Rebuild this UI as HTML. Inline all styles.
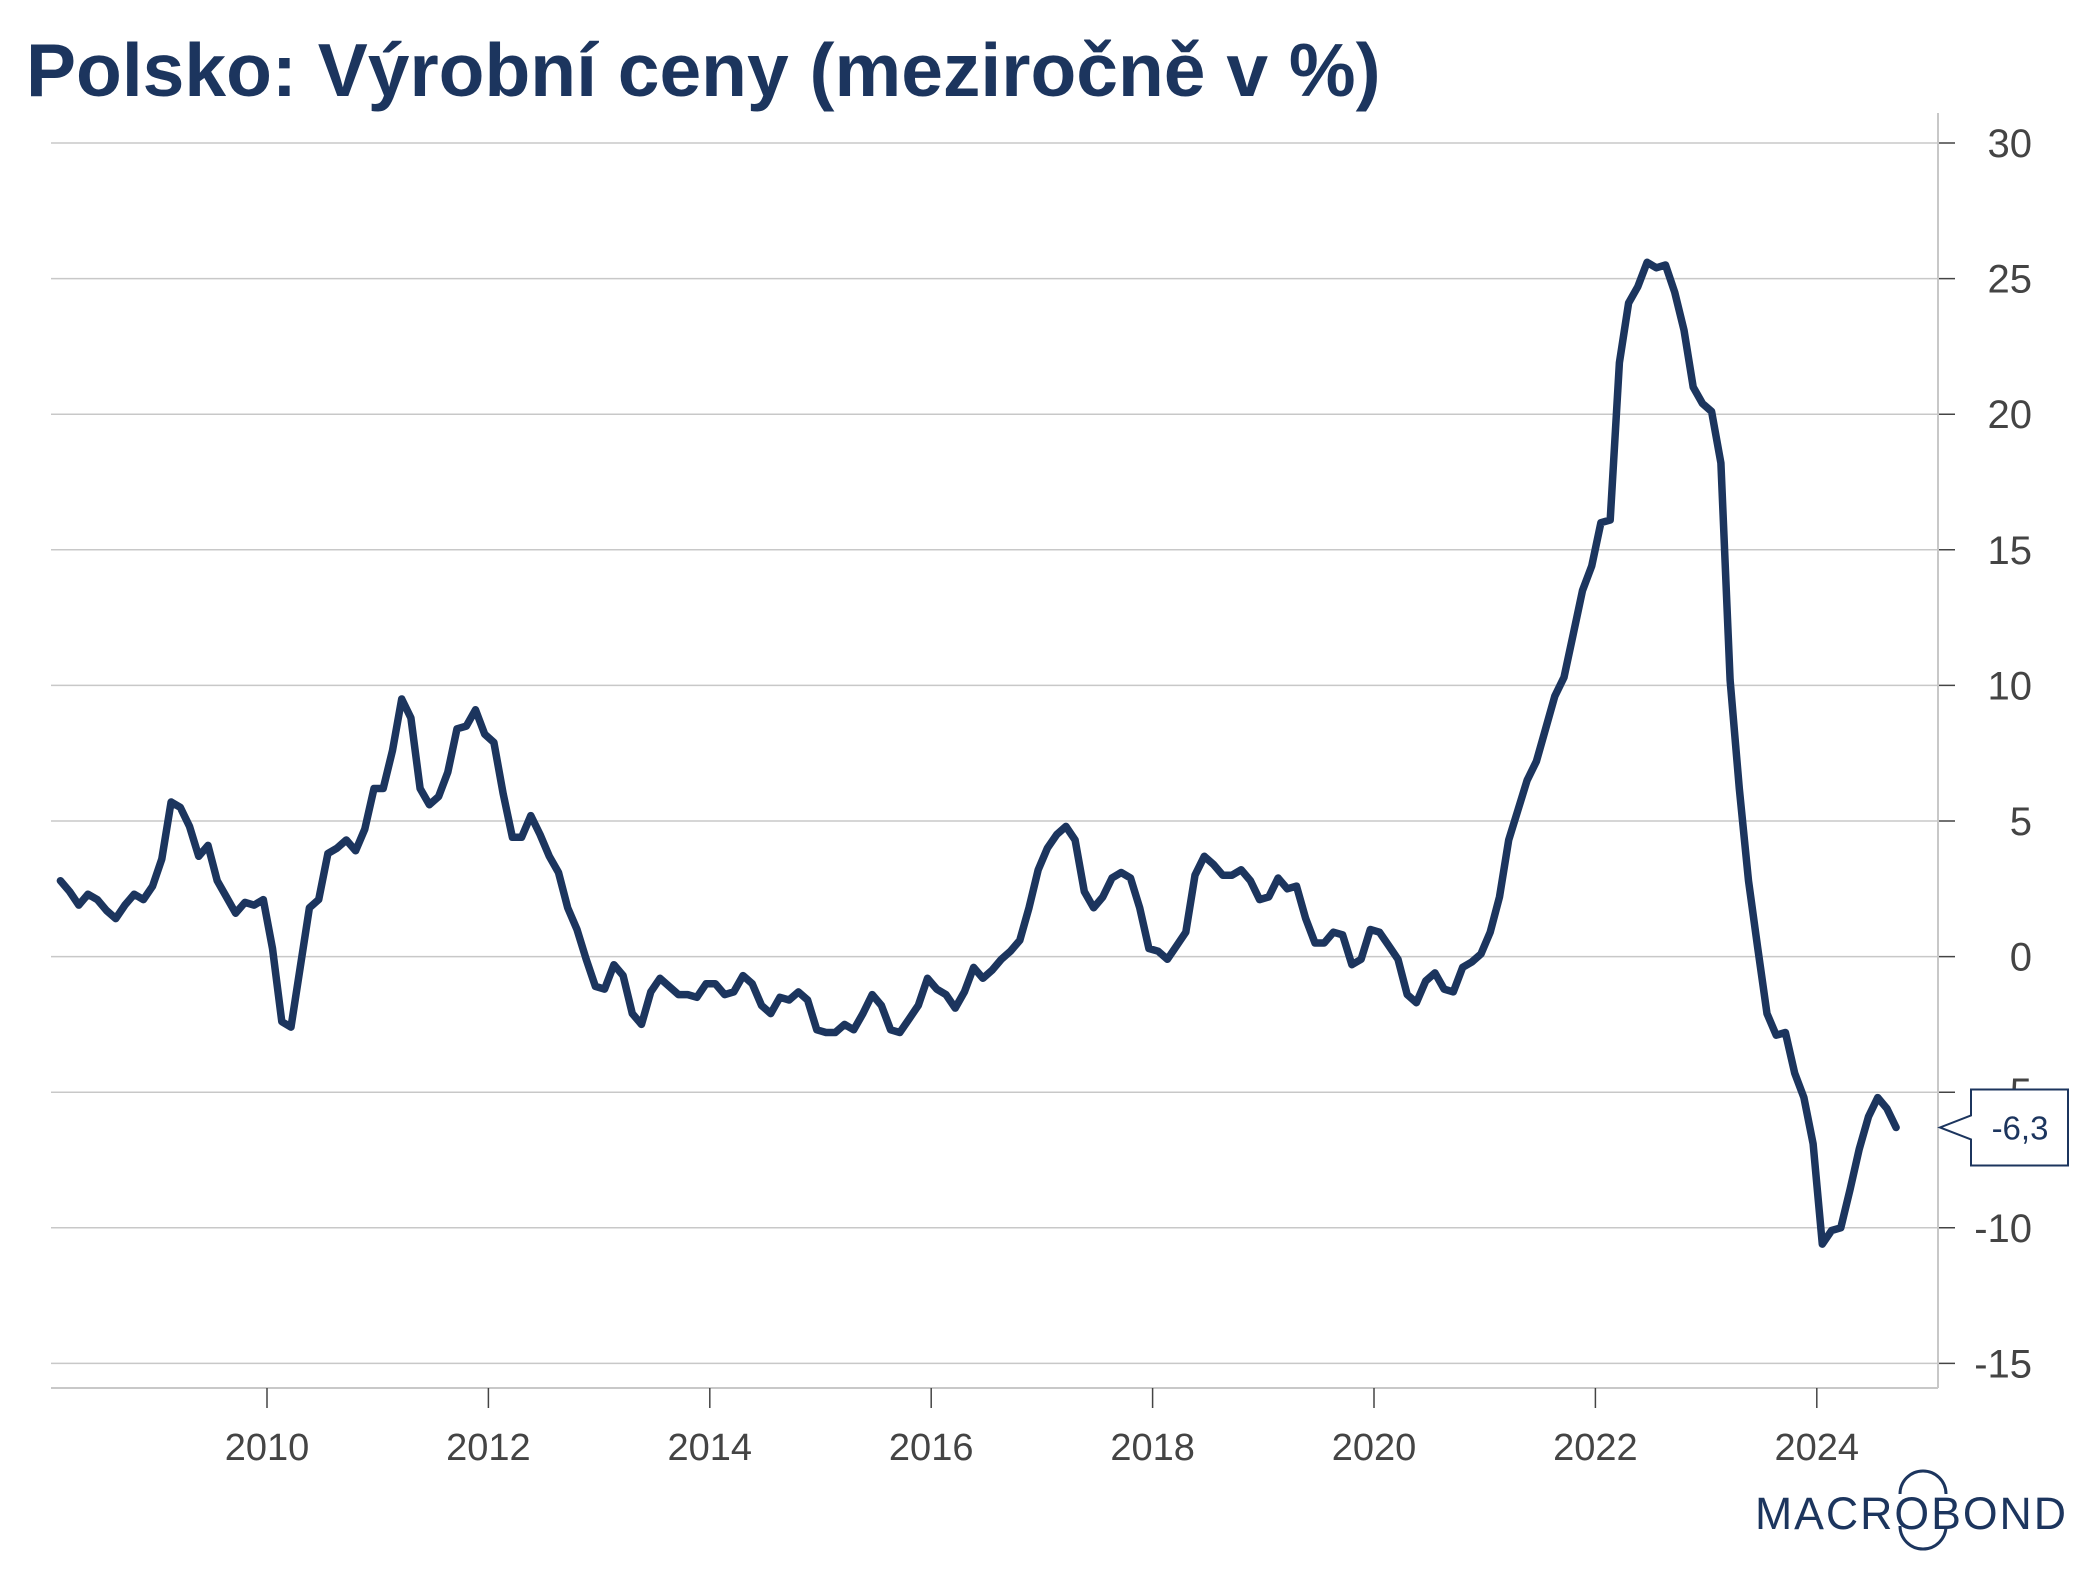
<!DOCTYPE html>
<html><head><meta charset="utf-8"><style>
html,body{margin:0;padding:0;background:#fff;}
svg{display:block;font-family:"Liberation Sans",Arial,sans-serif;}
</style></head><body>
<svg id="chart" width="2093" height="1570" viewBox="0 0 2093 1570">
<text x="26" y="96" font-size="75" font-weight="bold" fill="#1c355e">Polsko: Výrobní ceny (meziročně v %)</text>
<g id="grid"></g>
<g id="yaxis"></g>
<g id="xaxis"></g>
<path id="line" fill="none" stroke="#1c355e" stroke-width="7.5" stroke-linejoin="round" stroke-linecap="round"/>
<g id="callout"></g>
<g>
<text x="1755" y="1529" font-size="45" fill="#1c355e" letter-spacing="2" textLength="313" lengthAdjust="spacingAndGlyphs">MACROBOND</text>
<path d="M1900 1494 A23 23 0 0 1 1946 1494" fill="none" stroke="#1c355e" stroke-width="3"/>
<path d="M1900 1526 A23 23 0 0 0 1946 1526" fill="none" stroke="#1c355e" stroke-width="3"/>
</g>
</svg>
<script>
const yTicks=[30,25,20,15,10,5,0,-5,-10,-15];
const yTickLabels=["30","25","20","15","10","5","0","-5","-10","-15"];
const xTickYears=[2010,2012,2014,2016,2018,2020,2022,2024];
const startYear=2008, startMonth=1; // Feb 2008 (0-based month)
const values=[
2.8,2.4,1.9,2.3,2.1,1.7,1.4,1.9,2.3,2.1,2.6,
3.6,5.7,5.5,4.8,3.7,4.1,2.8,2.2,1.6,2.0,1.9,2.1,
0.3,-2.4,-2.6,-0.4,1.8,2.1,3.8,4.0,4.3,3.9,4.7,6.2,
6.2,7.6,9.5,8.8,6.2,5.6,5.9,6.8,8.4,8.5,9.1,8.2,
7.9,6.0,4.4,4.4,5.2,4.5,3.7,3.1,1.8,1.0,-0.1,-1.1,
-1.2,-0.3,-0.7,-2.1,-2.5,-1.3,-0.8,-1.1,-1.4,-1.4,-1.5,-1.0,
-1.0,-1.4,-1.3,-0.7,-1.0,-1.8,-2.1,-1.5,-1.6,-1.3,-1.6,-2.7,
-2.8,-2.8,-2.5,-2.7,-2.1,-1.4,-1.8,-2.7,-2.8,-2.3,-1.8,-0.8,
-1.2,-1.4,-1.9,-1.3,-0.4,-0.8,-0.5,-0.1,0.2,0.6,1.8,3.2,
4.0,4.5,4.8,4.3,2.4,1.8,2.2,2.9,3.1,2.9,1.8,0.3,
0.2,-0.1,0.4,0.9,3.0,3.7,3.4,3.0,3.0,3.2,2.8,2.1,
2.2,2.9,2.5,2.6,1.4,0.5,0.5,0.9,0.8,-0.3,-0.1,1.0,
0.9,0.4,-0.1,-1.4,-1.7,-0.9,-0.6,-1.2,-1.3,-0.4,-0.2,0.1,
0.9,2.2,4.3,5.4,6.5,7.2,8.4,9.6,10.3,11.9,13.5,14.4,
16.0,16.1,21.9,24.1,24.7,25.6,25.4,25.5,24.5,23.1,21.0,20.4,
20.1,18.2,10.2,6.2,2.8,0.3,-2.1,-2.9,-2.8,-4.3,-5.2,-6.9,
-10.6,-10.1,-10.0,-8.6,-7.1,-5.9,-5.2,-5.6,-6.3];
const lastLabel="-6,3";

const NS="http://www.w3.org/2000/svg";
const L=51,R=1938,B=1388,T=113;
function yS(v){return 956.6-(v*27.12);}
function xS(t){return 267+(t-2010)*110.7;}
function mk(tag,attrs,parent){const e=document.createElementNS(NS,tag);for(const k in attrs)e.setAttribute(k,attrs[k]);parent.appendChild(e);return e;}
const grid=document.getElementById('grid'),ya=document.getElementById('yaxis'),xa=document.getElementById('xaxis');
yTicks.forEach((v,i)=>{
 const y=yS(v);
 const g=mk('line',{x1:L,x2:R,y1:y,y2:y,stroke:'#c8c8c8','stroke-width':1.5},grid);
 
 
 const tk=mk('line',{x1:R,x2:R+17,y1:y,y2:y,stroke:'#444','stroke-width':1.5},ya);
 
 
 const t=mk('text',{x:2032,y:y+14,'font-size':40,fill:'#444','text-anchor':'end'},ya);
 t.textContent=yTickLabels[i];
 
 
});
mk('line',{x1:R,x2:R,y1:T,y2:B,stroke:'#c8c8c8','stroke-width':2},ya);
mk('line',{x1:L,x2:R,y1:B,y2:B,stroke:'#c8c8c8','stroke-width':2},xa);
xTickYears.forEach(yr=>{
 const x=xS(yr);
 const tk=mk('line',{x1:x,x2:x,y1:B,y2:B+20,stroke:'#444','stroke-width':1.5},xa);
 
 
 const t=mk('text',{x:x,y:1460,'font-size':38,fill:'#444','text-anchor':'middle'},xa);
 t.textContent=String(yr);
 
 
});
let d='';
values.forEach((v,i)=>{const t=startYear+(startMonth+i+0.6)/12;d+=(i?'L':'M')+xS(t).toFixed(1)+' '+yS(v).toFixed(1);});
document.getElementById('line').setAttribute('d',d);
const co=document.getElementById('callout');
const ly=yS(values[values.length-1]);
mk('path',{d:`M1971 ${ly-12} L1940 ${ly} L1971 ${ly+12} L1971 ${ly+38} L2068 ${ly+38} L2068 ${ly-38} L1971 ${ly-38} Z`,fill:'#fff',stroke:'#1c355e','stroke-width':2},co);
const ct=mk('text',{x:2020,y:ly+12,'font-size':33,fill:'#1c355e','text-anchor':'middle'},co);
ct.textContent=lastLabel;


</script>
</body></html>
